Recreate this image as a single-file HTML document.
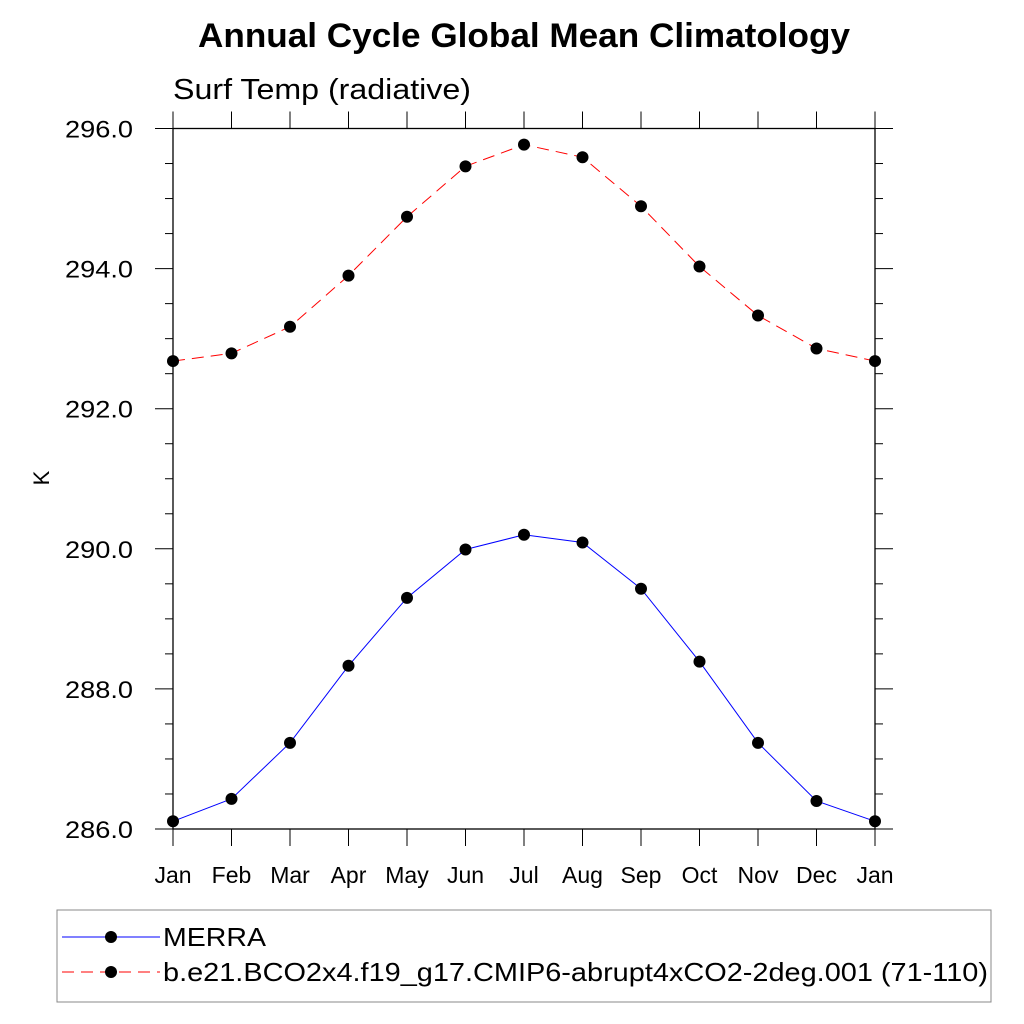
<!DOCTYPE html>
<html><head><meta charset="utf-8"><style>
body{margin:0;background:#fff}
svg{display:block;font-family:"Liberation Sans",sans-serif}
</style></head><body>
<svg id="chart" width="1024" height="1024" viewBox="0 0 1024 1024">
<text x="198" y="47" font-size="34" font-weight="bold" textLength="652" lengthAdjust="spacingAndGlyphs">Annual Cycle Global Mean Climatology</text>
<text x="173" y="99" font-size="29" textLength="298" lengthAdjust="spacingAndGlyphs">Surf Temp (radiative)</text>
<text transform="translate(49,478) rotate(-90)" text-anchor="middle" font-size="22">K</text>
<g id="axes"></g>
<g id="series"></g>
<g>
<rect x="57" y="910" width="934" height="92" fill="none" stroke="#888" stroke-width="1"/>
<line x1="62" y1="937" x2="160" y2="937" stroke="#00f" stroke-width="1"/>
<circle cx="111" cy="937" r="6" fill="#000"/>
<text x="163" y="946" font-size="26" textLength="103" lengthAdjust="spacingAndGlyphs">MERRA</text>
<line x1="62" y1="972" x2="160" y2="972" stroke="#f00" stroke-width="1" stroke-dasharray="12,7"/>
<circle cx="111" cy="972" r="6" fill="#000"/>
<text x="163" y="981" font-size="26" textLength="825" lengthAdjust="spacingAndGlyphs">b.e21.BCO2x4.f19_g17.CMIP6-abrupt4xCO2-2deg.001 (71-110)</text>
</g>
</svg>
<script>
const months=["Jan","Feb","Mar","Apr","May","Jun","Jul","Aug","Sep","Oct","Nov","Dec","Jan"];
const merra=[286.11,286.43,287.23,288.33,289.30,289.99,290.20,290.09,289.43,288.39,287.23,286.40,286.11];
const model=[292.68,292.79,293.17,293.90,294.74,295.46,295.77,295.59,294.89,294.03,293.33,292.86,292.68];
const yTicks=[286,288,290,292,294,296];
const yMin=286,yMax=296;
const L=173,R=875,T=128.5,B=829;
const NS="http://www.w3.org/2000/svg";
function x(i){return L+(R-L)*i/(months.length-1);}
function y(v){return B-(v-yMin)/(yMax-yMin)*(B-T);}
function mk(tag,attrs,parent){const e=document.createElementNS(NS,tag);for(const k in attrs)e.setAttribute(k,attrs[k]);parent.appendChild(e);return e;}
const ax=document.getElementById('axes');
const fr=mk('rect',{x:L,y:T,width:R-L,height:B-T,fill:'none',stroke:'#000','stroke-width':1.3},ax);


for(let v=yMin;v<=yMax+1e-9;v+=0.5){
  const major=Math.abs(v-Math.round(v/2)*2)<1e-6;
  const len=major?18:8;
  mk('line',{x1:L-len,y1:y(v),x2:L,y2:y(v),stroke:'#000','stroke-width':1},ax);
  mk('line',{x1:R,y1:y(v),x2:R+len,y2:y(v),stroke:'#000','stroke-width':1},ax);
}
yTicks.forEach(v=>{
  const t=mk('text',{x:65,y:y(v)+9,'font-size':24,textLength:68,lengthAdjust:'spacingAndGlyphs'},ax);
  t.textContent=v.toFixed(1);
  
  
});
months.forEach((m,i)=>{
  mk('line',{x1:x(i),y1:T,x2:x(i),y2:T-17,stroke:'#000','stroke-width':1},ax);
  mk('line',{x1:x(i),y1:B,x2:x(i),y2:B+17,stroke:'#000','stroke-width':1},ax);
  const t=mk('text',{x:x(i),y:883,'text-anchor':'middle','font-size':23},ax);
  t.textContent=m;
  
  
});
const sg=document.getElementById('series');
function draw(vals,color,dash,name){
  const p=mk('polyline',{points:vals.map((v,i)=>x(i)+','+y(v)).join(' '),fill:'none',stroke:color,'stroke-width':1,'stroke-dasharray':dash},sg);
  
  
  vals.forEach((v,i)=>{
    const c=mk('circle',{cx:x(i),cy:y(v),r:6,fill:'#000'},sg);
    
    
  });
}
draw(merra,'#00f','none','merra');
draw(model,'#f00','12,7','model');
</script>
</body></html>
